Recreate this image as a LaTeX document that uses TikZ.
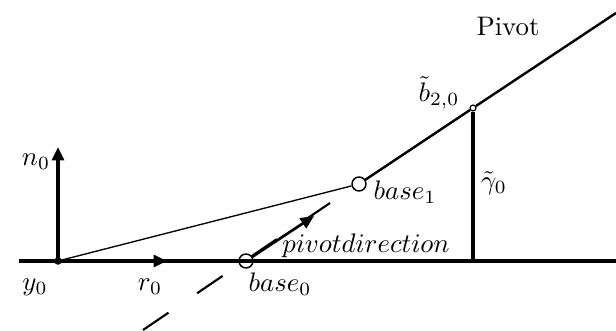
\documentclass[tikz,border=0pt]{standalone}
\usepackage{amsmath,amssymb}
\usepackage{tikz}
\usetikzlibrary{arrows.meta,positioning,calc}

\tikzset{
    axisline/.style={line width=1.3pt},
    thinline/.style={line width=0.5pt},
    tipline/.style={line width=1pt, -{Triangle[length=5pt,width=4.4pt]}},
    ring/.style={circle, draw, line width=0.55pt, inner sep=0pt, minimum size=5.2pt},
    smallring/.style={circle, draw, line width=0.45pt, inner sep=0pt, minimum size=2.2pt},
    lbl/.style={inner sep=0pt}
}

\begin{document}
\begin{tikzpicture}[x=0.373pt,y=-0.373pt]
    \useasboundingbox (0,0) rectangle (616,331);

    % points
    \coordinate (left) at (19,261);
    \coordinate (right) at (616,261);
    \coordinate (origin) at (58,261);
    \coordinate (rtip) at (167,261);
    \coordinate (ntip) at (58,147);
    \coordinate (dirtip) at (314,216);
    \coordinate (dashstart) at (143,330);
    \coordinate (dashend) at (330,203);
    \coordinate (upper) at (616,13);
    \coordinate (foot) at (473,261);

    \node[ring] (base0) at (246,261) {};
    \node[ring] (base1) at (359,184) {};
    \node[smallring] (bpivot) at (473,108) {};

    % axis and frame vectors
    \draw[axisline] (left) -- (right);
    \draw[tipline, line width=1.3pt] (origin) -- (rtip);
    \draw[tipline, line width=1.3pt] (origin) -- (ntip);
    \fill (origin) circle (1.4pt);

    % pivot direction
    \draw[line width=0.8pt, dash pattern=on 11.5pt off 12.9pt] (dashstart) -- (dashend);
    \draw[tipline] (base0) -- (dirtip);

    % pivot line
    \draw[thinline] (origin) -- (base1);
    \draw[line width=0.9pt] (base1) -- (bpivot);
    \draw[line width=0.9pt] (bpivot) -- (upper);
    \draw[axisline] (bpivot) -- (foot);

    % labels
    \node[lbl] (nlabel) at (36,162) {$n_0$};
    \node[lbl] (ylabel) at (35,287) {$y_0$};
    \node[lbl] (rlabel) at (150,287) {$r_0$};
    \node[lbl] (base0label) at (280,284) {$base_0$};
    \node[lbl] (base1label) at (405,192) {$base_1$};
    \node[lbl] (dirlabel) at (366,246) {$pivotdirection$};
    \node[lbl] (blabel) at (439,93) {$\tilde{b}_{2,0}$};
    \node[lbl] (glabel) at (494,183) {$\tilde{\gamma}_0$};
    \node[lbl] (pivotlabel) at (508,26) {Pivot};
\end{tikzpicture}
\end{document}
